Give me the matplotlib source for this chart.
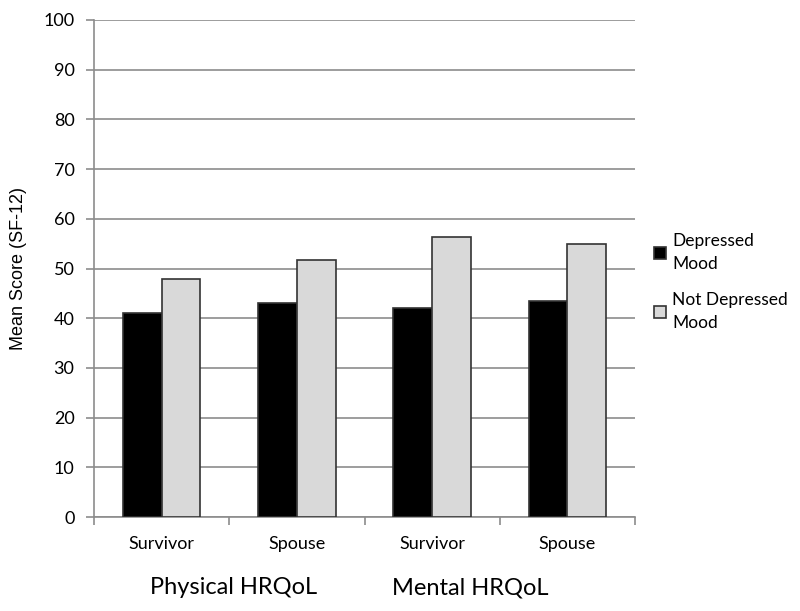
import numpy as np
import matplotlib
matplotlib.use('Agg')
import matplotlib.pyplot as plt

# data
categories = ['Survivor', 'Spouse', 'Survivor', 'Spouse']
groups = ['Physical HRQoL', 'Mental HRQoL']
depressed = [41.1, 43.0, 42.0, 43.5]
not_depressed = [47.9, 51.8, 56.3, 54.9]
yticks = [0, 10, 20, 30, 40, 50, 60, 70, 80, 90, 100]

plt.rcParams['font.family'] = ['Lato', 'DejaVu Sans']

fig = plt.figure(figsize=(8, 6.11), dpi=100)
ax = fig.add_axes([0.1175, 0.1538, 0.67625, 0.8135])

x = np.arange(len(categories))
w = 0.286
ax.bar(x - w / 2, depressed, w, color='black', edgecolor='#333333', linewidth=1.2,
       label='Depressed\nMood', zorder=3)
ax.bar(x + w / 2, not_depressed, w, color='#d9d9d9', edgecolor='#333333', linewidth=1.2,
       label='Not Depressed\nMood', zorder=3)

ax.set_xlim(-0.5, len(categories) - 0.5)
ax.set_ylim(0, 100)
ax.set_yticks(yticks)
ax.yaxis.grid(True, color='#8c8c8c', linewidth=1.2, zorder=0)

# category ticks at group boundaries, labels in the middle
ax.set_xticks(np.arange(-0.5, len(categories)), minor=False)
ax.set_xticklabels([])
ax.set_xticks(x, minor=True)
ax.set_xticklabels(categories, minor=True, fontsize=13)
ax.tick_params(axis='x', which='minor', length=0, pad=14)
ax.tick_params(axis='x', which='major', length=6, color='#8c8c8c', width=1.2)
ax.tick_params(axis='y', length=6, color='#8c8c8c', width=1.2, labelsize=13, pad=8)

for s in ['top', 'right']:
    ax.spines[s].set_visible(False)
for s in ['left', 'bottom']:
    ax.spines[s].set_color('#8c8c8c')
    ax.spines[s].set_linewidth(1.2)

ax.set_ylabel('Mean Score (SF-12)', fontsize=13, labelpad=12,
              family=['Liberation Sans', 'DejaVu Sans'])

fig.text(234 / 800, 1 - 588 / 611, groups[0], fontsize=17, ha='center', va='center')
fig.text(470 / 800, 1 - 588 / 611, groups[1], fontsize=17, ha='center', va='center')

leg = ax.legend(loc='center left', bbox_to_anchor=(1.035, 0.473), frameon=False,
                borderaxespad=0, borderpad=0,
                fontsize=12.5, handlelength=0.7, handleheight=0.7, handletextpad=0.35,
                labelspacing=1.2)
for t in leg.get_texts():
    t.set_linespacing(1.5)

fig.savefig('out.png', dpi=100)
